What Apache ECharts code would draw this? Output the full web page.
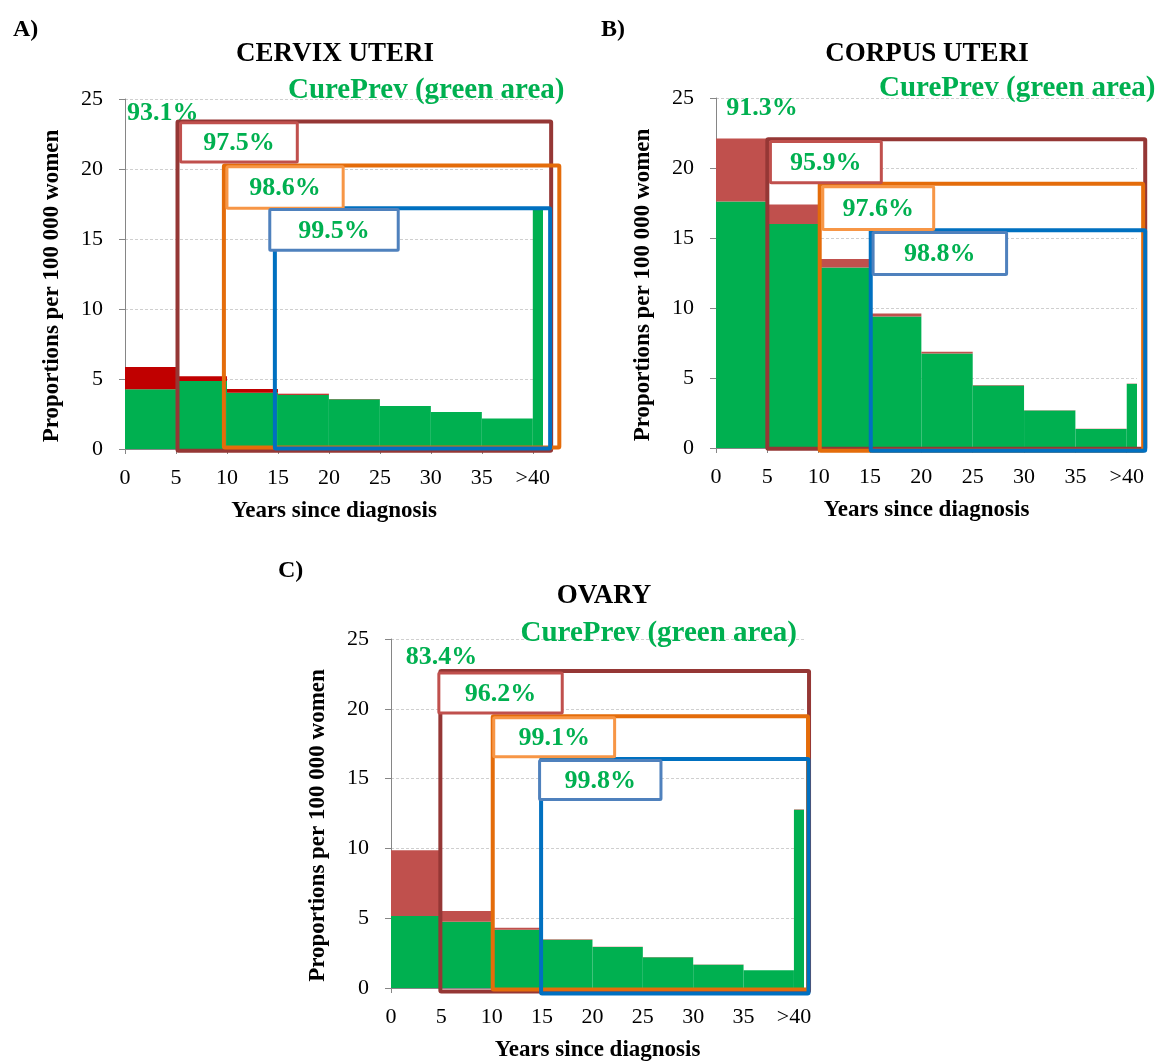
<!DOCTYPE html>
<html>
<head>
<meta charset="utf-8">
<script src="https://cdn.jsdelivr.net/npm/echarts@6/dist/echarts.min.js"></script>
<style>
html,body{margin:0;padding:0;background:#fff;}
#chart{width:1160px;height:1063px;}
</style>
</head>
<body>
<div id="chart"></div>
<script>
// ---------- DATA ----------
const binStart = [0, 5, 10, 15, 20, 25, 30, 35, 40];
const binEnd   = [5, 10, 15, 20, 25, 30, 35, 40, 41];
const xTickValues = [0, 5, 10, 15, 20, 25, 30, 35, 40];
const xTickLabels = ['0', '5', '10', '15', '20', '25', '30', '35', '>40'];

const panelLetters = ['A)', 'B)', 'C)'];
const panelTitles  = ['CERVIX UTERI', 'CORPUS UTERI', 'OVARY'];

// cured (green) and total (green + red) proportions per 100 000 women
const cervixCured = [4.26, 4.86, 4.02, 3.88, 3.55, 3.07, 2.64, 2.17, 17.1];
const cervixTotal = [5.86, 5.19, 4.29, 3.95, 3.57, 3.08, 2.65, 2.18, 17.1];
const corpusCured = [17.6, 16.0, 12.9, 9.4, 6.75, 4.46, 2.67, 1.35, 4.58];
const corpusTotal = [22.1, 17.4, 13.5, 9.6, 6.87, 4.50, 2.70, 1.37, 4.60];
const ovaryCured  = [5.15, 4.75, 4.18, 3.46, 2.94, 2.20, 1.67, 1.27, 12.77];
const ovaryTotal  = [9.86, 5.51, 4.32, 3.50, 2.96, 2.22, 1.68, 1.28, 12.80];

// CurePrev percentages: overall, and for survivors since 5, 10, 15 years
const overallPct = ['93.1%', '91.3%', '83.4%'];
const windowStarts = [5, 10, 15];
const windowPct = [
  ['97.5%', '98.6%', '99.5%'],
  ['95.9%', '97.6%', '98.8%'],
  ['96.2%', '99.1%', '99.8%']
];

// ---------- ANNOTATION GEOMETRY (data units) ----------
// big window boxes: [left, right, bottom, top]
const bigBoxes = [
  [[5.15, 41.8, -0.12, 23.4], [9.7, 42.6, 0.1, 20.25], [14.7, 41.7, 0.03, 17.2]],
  [[5.0, 41.8, -0.05, 22.05], [10.1, 41.6, -0.2, 18.87], [15.07, 41.8, -0.2, 15.56]],
  [[4.9, 41.5, -0.25, 22.7], [10.1, 41.4, -0.1, 19.47], [14.9, 41.45, -0.4, 16.4]]
];
// label boxes: [left, right, bottom, top]
const labelBoxes = [
  [[5.45, 16.9, 20.5, 23.3], [10.0, 21.4, 17.2, 20.16], [14.2, 26.8, 14.2, 17.1]],
  [[5.3, 16.1, 18.95, 21.9], [10.4, 21.2, 15.6, 18.66], [15.3, 28.3, 12.4, 15.4]],
  [[4.75, 17.0, 19.7, 22.57], [10.2, 22.2, 16.56, 19.35], [14.75, 26.8, 13.5, 16.3]]
];
// overall pct text anchor [x, y] (left-middle) and CurePrev anchor (right-middle)
const overallAnchor = [[0.2, 24.0], [1.0, 24.27], [1.46, 23.7]];
const curePrevAnchor = [[43.1, 25.6], [42.8, 25.7], [40.3, 25.4]];

// ---------- STYLE / LAYOUT ----------
const FONT = 'Liberation Serif';
const GREEN = '#00B050';
const reds = ['#C00000', '#C0504D', '#C0504D'];
const boxColors = ['#953735', '#E46C0A', '#0070C0'];
const labelBoxColors = ['#C0504D', '#F79646', '#4F81BD'];
const grids = [
  {left: 125, top: 99, width: 418, height: 350},
  {left: 716, top: 98, width: 421, height: 350},
  {left: 391, top: 639, width: 413, height: 349}
];
const cured = [cervixCured, corpusCured, ovaryCured];
const total = [cervixTotal, corpusTotal, ovaryTotal];

const chart = echarts.init(document.getElementById('chart'), null, {renderer: 'canvas'});

const xAxes = [], yAxes = [], series = [];
grids.forEach((g, i) => {
  xAxes.push({
    gridIndex: i, type: 'value', min: 0, max: 41, interval: 5,
    axisLine: {show: true, onZero: false, lineStyle: {color: '#868686', width: 1}},
    axisTick: {show: true, length: 5, customValues: xTickValues, lineStyle: {color: '#868686'}},
    axisLabel: {
      customValues: xTickValues, margin: 18,
      formatter: v => xTickLabels[xTickValues.indexOf(v)] || '',
      fontFamily: FONT, fontSize: 22, color: '#000'
    },
    splitLine: {show: false},
    name: 'Years since diagnosis', nameLocation: 'middle', nameGap: 51,
    nameTextStyle: {fontFamily: FONT, fontWeight: 'bold', fontSize: 23, color: '#000'}
  });
  yAxes.push({
    gridIndex: i, type: 'value', min: 0, max: 25, interval: 5,
    axisLine: {show: true, lineStyle: {color: '#868686', width: 1}},
    axisTick: {show: true, length: 6, lineStyle: {color: '#868686'}},
    axisLabel: {fontFamily: FONT, fontSize: 22, color: '#000', margin: 22},
    splitLine: {show: true, lineStyle: {color: '#CFCFCF', type: [3, 2], width: 1}},
    name: 'Proportions per 100 000 women', nameLocation: 'middle', nameGap: 61, nameRotate: 90,
    nameTextStyle: {fontFamily: FONT, fontWeight: 'bold', fontSize: 23, color: '#000', padding: [0, 24, 0, 0]}
  });

  // stacked bars: green cured part + red non-cured part
  series.push({
    type: 'custom', xAxisIndex: i, yAxisIndex: i, z: 2,
    encode: {x: [0, 1], y: [2, 3]},
    data: binStart.map((s, k) => [s, binEnd[k], cured[i][k], total[i][k]]),
    renderItem: (params, api) => {
      const x0 = api.value(0), x1 = api.value(1), gv = api.value(2), tv = api.value(3);
      const p0 = api.coord([x0, 0]), pg = api.coord([x1, gv]), pt = api.coord([x1, tv]);
      const w = pg[0] - p0[0];
      return {type: 'group', children: [
        {type: 'rect', shape: {x: p0[0], y: pg[1], width: w, height: p0[1] - pg[1]}, style: {fill: GREEN}},
        {type: 'rect', shape: {x: p0[0], y: pt[1], width: w, height: pg[1] - pt[1]}, style: {fill: reds[i]}}
      ]};
    }
  });

  // big window boxes
  series.push({
    type: 'custom', xAxisIndex: i, yAxisIndex: i, z: 3,
    encode: {x: [0, 1], y: [2, 3]},
    data: bigBoxes[i].map((b, k) => [b[0], b[1], b[2], b[3], k]),
    renderItem: (params, api) => {
      const a = api.coord([api.value(0), api.value(3)]);
      const b = api.coord([api.value(1), api.value(2)]);
      return {type: 'rect', shape: {x: a[0], y: a[1], width: b[0] - a[0], height: b[1] - a[1], r: 1},
        style: {fill: 'none', stroke: boxColors[api.value(4)], lineWidth: 4, lineJoin: 'round'}};
    }
  });

  // label boxes with percentage
  series.push({
    type: 'custom', xAxisIndex: i, yAxisIndex: i, z: 4,
    encode: {x: [0, 1], y: [2, 3]},
    data: labelBoxes[i].map((b, k) => [b[0], b[1], b[2], b[3], k]),
    renderItem: (params, api) => {
      const k = api.value(4);
      const a = api.coord([api.value(0), api.value(3)]);
      const b = api.coord([api.value(1), api.value(2)]);
      return {type: 'group', children: [
        {type: 'rect', shape: {x: a[0], y: a[1], width: b[0] - a[0], height: b[1] - a[1], r: 1},
          style: {fill: '#fff', stroke: labelBoxColors[k], lineWidth: 3}},
        {type: 'text', style: {text: windowPct[i][k], x: (a[0] + b[0]) / 2, y: (a[1] + b[1]) / 2 + 1,
          align: 'center', verticalAlign: 'middle', fill: GREEN,
          font: 'bold 26px "' + FONT + '"'}}
      ]};
    }
  });

  // overall percentage and CurePrev caption
  series.push({
    type: 'custom', xAxisIndex: i, yAxisIndex: i, z: 5,
    encode: {x: 0, y: 1},
    data: [[overallAnchor[i][0], overallAnchor[i][1], 0], [curePrevAnchor[i][0], curePrevAnchor[i][1], 1]],
    renderItem: (params, api) => {
      const p = api.coord([api.value(0), api.value(1)]);
      const isCap = api.value(2) === 1;
      return {type: 'text', style: {
        text: isCap ? 'CurePrev (green area)' : overallPct[i],
        x: p[0], y: p[1], align: isCap ? 'right' : 'left', verticalAlign: 'middle',
        fill: GREEN, font: 'bold ' + (isCap ? 29 : 26) + 'px "' + FONT + '"'}};
    }
  });
});

const titleStyle = {fontFamily: FONT, fontWeight: 'bold', fontSize: 27, color: '#000'};
const letterStyle = {fontFamily: FONT, fontWeight: 'bold', fontSize: 24, color: '#000'};
const titles = [
  {text: panelLetters[0], left: 8, top: 13, textStyle: letterStyle},
  {text: panelTitles[0], left: 330, top: 36, textAlign: 'center', textStyle: titleStyle},
  {text: panelLetters[1], left: 596, top: 13, textStyle: letterStyle},
  {text: panelTitles[1], left: 922, top: 36, textAlign: 'center', textStyle: titleStyle},
  {text: panelLetters[2], left: 273, top: 554, textStyle: letterStyle},
  {text: panelTitles[2], left: 599, top: 578, textAlign: 'center', textStyle: titleStyle}
];

chart.setOption({
  animation: false,
  backgroundColor: '#fff',
  title: titles,
  grid: grids.map(g => Object.assign({containLabel: false}, g)),
  xAxis: xAxes,
  yAxis: yAxes,
  series: series
});
</script>
</body>
</html>
